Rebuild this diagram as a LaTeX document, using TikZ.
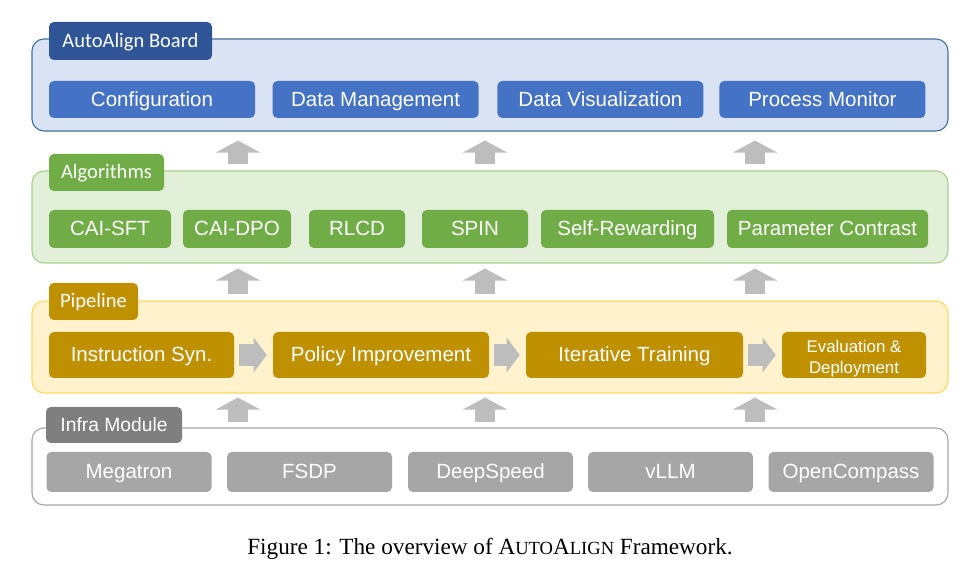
\documentclass[tikz,border=0pt]{standalone}
\usepackage{fontspec}
\setmainfont{Liberation Serif}
\newfontfamily\boxfont{Liberation Sans}
\newfontfamily\tabfont{Carlito}
\usetikzlibrary{arrows.meta}
\definecolor{boardfill}{HTML}{DAE3F3}
\definecolor{boardline}{HTML}{41719C}
\definecolor{boardtab}{HTML}{2F5597}
\definecolor{boarditem}{HTML}{4472C4}
\definecolor{algfill}{HTML}{E2F0D9}
\definecolor{algline}{HTML}{A9D18E}
\definecolor{algitem}{HTML}{70AD47}
\definecolor{pipefill}{HTML}{FFF2CC}
\definecolor{pipeline}{HTML}{FFD966}
\definecolor{pipeitem}{HTML}{BF9000}
\definecolor{infraline}{HTML}{A6A6A6}
\definecolor{infratab}{HTML}{7F7F7F}
\definecolor{infraitem}{HTML}{A6A6A6}
\definecolor{arrowgray}{HTML}{BDBDBD}
\tikzset{
  layerframe/.style={draw, rounded corners=0.3cm, line width=0.8pt, inner sep=0pt, minimum width=22.9cm},
  tabbox/.style={rounded corners=0.12cm, inner sep=0pt, text=white, text height=0.92em, text depth=0pt,
    font=\tabfont\fontsize{14.6}{17}\selectfont},
  boxbase/.style={rounded corners=0.12cm, inner sep=0pt, text=white, font=\boxfont\fontsize{14.6}{17}\selectfont},
  itembox/.style={boxbase, text height=0.96em, text depth=0pt},
  uparrow/.style={draw=arrowgray, line width=0.5cm, -{Triangle[width=1.1cm,length=0.3cm]}, arrowgray},
  rightarrow/.style={draw=arrowgray, line width=0.55cm, -{Triangle[width=0.85cm,length=0.325cm]}, arrowgray,
    shorten <=0.12cm, shorten >=0.15cm}
}
\begin{document}
\begin{tikzpicture}
            \useasboundingbox (0,0) rectangle (24,14.15);

            % Drawing layer AutoAlign Board
            \node [layerframe, draw=boardline, fill=boardfill, minimum height=2.3cm] (board) at (12.25,12.025) {};%
            \node [tabbox, fill=boardtab, minimum width=4.075cm, minimum height=0.95cm] (boardtab) at (3.2625,13.125) {AutoAlign Board};%
            \node [itembox, fill=boarditem, minimum width=5.15cm, minimum height=0.925cm] (config) at (3.800,11.6625) {Configuration};%
            \node [itembox, fill=boarditem, minimum width=5.15cm, minimum height=0.925cm] (datamgmt) at (9.390,11.6625) {Data Management};%
            \node [itembox, fill=boarditem, minimum width=5.15cm, minimum height=0.925cm] (datavis) at (15.010,11.6625) {Data Visualization};%
            \node [itembox, fill=boarditem, minimum width=5.15cm, minimum height=0.925cm] (monitor) at (20.560,11.6625) {Process Monitor};%

            % Drawing layer Algorithms
            \node [layerframe, draw=algline, fill=algfill, minimum height=2.3cm] (alg) at (12.25,8.725) {};%
            \node [tabbox, fill=algitem, minimum width=2.875cm, minimum height=0.925cm] (algtab) at (2.6625,9.8375) {Algorithms};%
            \node [itembox, fill=algitem, minimum width=3.05cm, minimum height=0.95cm] (caisft) at (2.750,8.425) {CAI-SFT};%
            \node [itembox, fill=algitem, minimum width=2.70cm, minimum height=0.95cm] (caidpo) at (5.925,8.425) {CAI-DPO};%
            \node [itembox, fill=algitem, minimum width=2.40cm, minimum height=0.95cm] (rlcd) at (8.925,8.425) {RLCD};%
            \node [itembox, fill=algitem, minimum width=2.65cm, minimum height=0.95cm] (spin) at (11.875,8.425) {SPIN};%
            \node [itembox, fill=algitem, minimum width=4.325cm, minimum height=0.95cm] (selfrew) at (15.6875,8.425) {Self-Rewarding};%
            \node [itembox, fill=algitem, minimum width=5.025cm, minimum height=0.95cm] (paramcon) at (20.6875,8.425) {Parameter Contrast};%

            % Drawing layer Pipeline
            \node [layerframe, draw=pipeline, fill=pipefill, minimum height=2.3cm] (pipe) at (12.25,5.475) {};%
            \node [tabbox, fill=pipeitem, minimum width=2.225cm, minimum height=0.925cm] (pipetab) at (2.3375,6.6125) {Pipeline};%
            \node [itembox, fill=pipeitem, minimum width=4.625cm, minimum height=1.15cm] (instsyn) at (3.5375,5.275) {Instruction Syn.};%
            \node [itembox, fill=pipeitem, minimum width=5.40cm, minimum height=1.15cm] (policy) at (9.525,5.275) {Policy Improvement};%
            \node [itembox, fill=pipeitem, minimum width=5.425cm, minimum height=1.15cm] (itertrain) at (15.8625,5.275) {Iterative Training};%
            \node [boxbase, fill=pipeitem, minimum width=3.60cm, minimum height=1.15cm, align=center,
                   font=\boxfont\fontsize{12}{15}\selectfont] (evaldep) at (21.35,5.275) {\rule{0pt}{1.2em}Evaluation \&\\Deployment};%

            % Drawing layer Infra Module
            \node [layerframe, draw=infraline, fill=white, minimum height=1.925cm] (infra) at (12.25,2.4875) {};%
            \node [tabbox, fill=infratab, minimum width=3.40cm, minimum height=0.90cm,
                   font=\boxfont\fontsize{13.7}{16}\selectfont] (infratab) at (2.85,3.525) {Infra Module};%
            \node [itembox, fill=infraitem, minimum width=4.125cm, minimum height=1.0cm] (megatron) at (3.225,2.35) {Megatron};%
            \node [itembox, fill=infraitem, minimum width=4.125cm, minimum height=1.0cm] (fsdp) at (7.7375,2.35) {FSDP};%
            \node [itembox, fill=infraitem, minimum width=4.125cm, minimum height=1.0cm] (deepspeed) at (12.2625,2.35) {DeepSpeed};%
            \node [itembox, fill=infraitem, minimum width=4.125cm, minimum height=1.0cm] (vllm) at (16.7625,2.35) {vLLM};%
            \node [itembox, fill=infraitem, minimum width=4.125cm, minimum height=1.0cm] (opencompass) at (21.275,2.35) {OpenCompass};%

            % Drawing arrows between layers
            \draw [uparrow, shorten <=0.15cm, shorten >=0.225cm] (5.950,0 |- alg.north) -- (5.950,0 |- board.south);%
            \draw [uparrow, shorten <=0.15cm, shorten >=0.225cm] (12.125,0 |- alg.north) -- (12.125,0 |- board.south);%
            \draw [uparrow, shorten <=0.15cm, shorten >=0.225cm] (18.875,0 |- alg.north) -- (18.875,0 |- board.south);%
            \draw [uparrow, shorten <=0.15cm, shorten >=0.125cm] (5.950,0 |- pipe.north) -- (5.950,0 |- alg.south);%
            \draw [uparrow, shorten <=0.15cm, shorten >=0.125cm] (12.125,0 |- pipe.north) -- (12.125,0 |- alg.south);%
            \draw [uparrow, shorten <=0.15cm, shorten >=0.125cm] (18.875,0 |- pipe.north) -- (18.875,0 |- alg.south);%
            \draw [uparrow, shorten <=0.125cm, shorten >=0.10cm] (5.950,0 |- infra.north) -- (5.950,0 |- pipe.south);%
            \draw [uparrow, shorten <=0.125cm, shorten >=0.10cm] (12.125,0 |- infra.north) -- (12.125,0 |- pipe.south);%
            \draw [uparrow, shorten <=0.125cm, shorten >=0.10cm] (18.875,0 |- infra.north) -- (18.875,0 |- pipe.south);%

            % Drawing arrows along the pipeline
            \draw [rightarrow] (instsyn) -- (policy);%
            \draw [rightarrow] (policy) -- (itertrain);%
            \draw [rightarrow] (itertrain) -- (evaldep);%

            % Caption
            \node [anchor=base, font=\fontsize{16.5}{19}\selectfont] (caption) at (12.25,0.28)
                  {Figure 1: The overview of A{\fontsize{13.2}{15}\selectfont UTO}A{\fontsize{13.2}{15}\selectfont LIGN} Framework.};%
        \end{tikzpicture}
\end{document}
